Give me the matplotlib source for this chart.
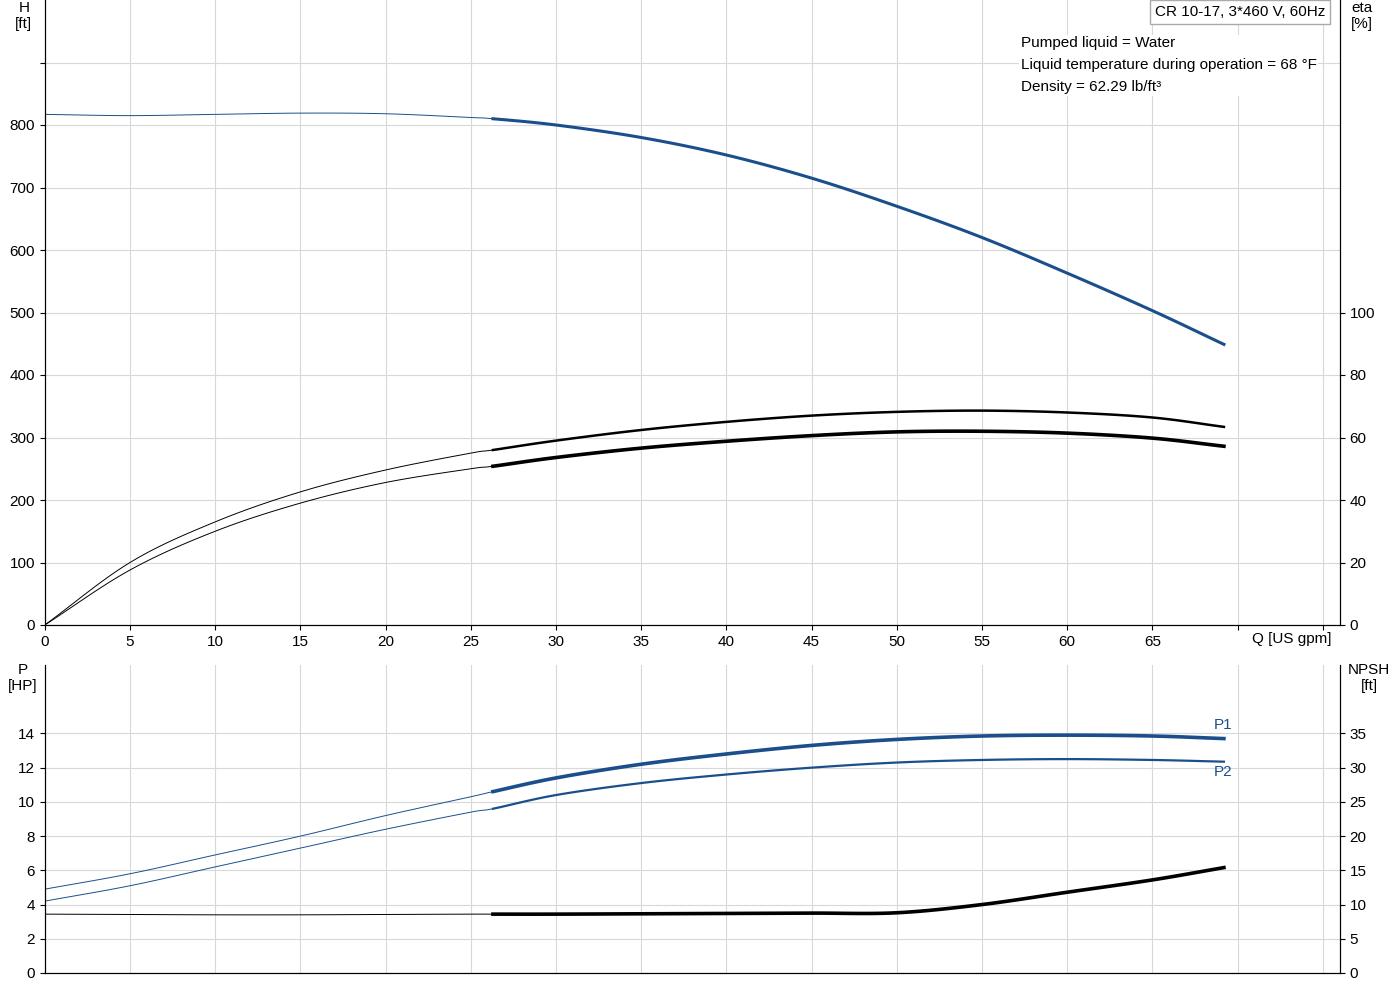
import matplotlib
matplotlib.use("Agg")
import matplotlib.pyplot as plt
import numpy as np

plt.rcParams['font.family'] = ['Liberation Sans', 'DejaVu Sans']

q = [0, 5, 10, 15, 20, 25, 26.3, 30, 35, 40, 45, 50, 55, 60, 65, 69.2]
head = [817, 815, 817, 819, 818, 812, 810, 800, 780, 752, 715, 670, 620, 563, 503, 449]
eta1 = [0, 20, 33, 42.6, 49.6, 55, 56, 59, 62.4, 65, 67, 68.2, 68.6, 68, 66.4, 63.4]
eta2 = [0, 17.6, 30, 39, 45.6, 50, 50.8, 53.6, 56.6, 58.8, 60.6, 61.8, 62, 61.4, 59.8, 57.2]
p1 = [4.9, 5.8, 6.9, 8.0, 9.2, 10.3, 10.6, 11.4, 12.2, 12.8, 13.3, 13.65, 13.85, 13.9, 13.85, 13.7]
p2 = [4.2, 5.1, 6.2, 7.3, 8.4, 9.4, 9.6, 10.4, 11.1, 11.6, 12.0, 12.3, 12.45, 12.5, 12.45, 12.35]
npsh = [8.6, 8.55, 8.5, 8.5, 8.55, 8.6, 8.6, 8.6, 8.65, 8.7, 8.75, 8.8, 10.0, 11.8, 13.6, 15.4]
split = 6  # index of 26.3 gpm
BLUE = "#1a4f8b"
GRID = "#d8d8d8"

def smooth(x, y, n=12):
    """Catmull-Rom rendering of the read points (drawing only)."""
    x = np.asarray(x, float); y = np.asarray(y, float)
    px = np.concatenate([[2 * x[0] - x[1]], x, [2 * x[-1] - x[-2]]])
    py = np.concatenate([[2 * y[0] - y[1]], y, [2 * y[-1] - y[-2]]])
    xs, ys = [], []
    for i in range(1, len(px) - 2):
        t = np.linspace(0, 1, n, endpoint=False)
        for P, out in ((px, xs), (py, ys)):
            p0, p1_, p2_, p3 = P[i - 1], P[i], P[i + 1], P[i + 2]
            out.extend(0.5 * (2 * p1_ + (-p0 + p2_) * t + (2 * p0 - 5 * p1_ + 4 * p2_ - p3) * t ** 2
                              + (-p0 + 3 * p1_ - 3 * p2_ + p3) * t ** 3))
    xs.append(x[-1]); ys.append(y[-1])
    return np.array(xs), np.array(ys)

fig = plt.figure(figsize=(14, 10), dpi=100)
ax = fig.add_axes([0.032, 0.375, 0.925, 0.625])
ax2 = ax.twinx()
bx = fig.add_axes([0.032, 0.027, 0.925, 0.308])
bx2 = bx.twinx()

def thinthick(a, x, y, color, lw):
    xs, ys = smooth(x, y)
    cut = split * 12
    a.plot(xs[:cut + 1], ys[:cut + 1], color=color, lw=0.7)
    a.plot(xs[cut:], ys[cut:], color=color, lw=lw)

for a in (ax, bx):
    a.set_xlim(0, 76)
    a.set_xticks(np.arange(0, 80, 5))
    a.grid(True, color=GRID, lw=0.8)
    a.set_axisbelow(True)
    a.spines["top"].set_visible(False)
    a.tick_params(labelsize=11, direction="out")

ax.set_ylim(0, 1000)
ax.set_yticks(np.arange(0, 1000, 100))
ax.set_yticklabels([str(v) if v <= 800 else "" for v in range(0, 1000, 100)])
ax.set_xticklabels([str(v) if v <= 65 else "" for v in range(0, 80, 5)])
ax2.set_ylim(0, 200)
ax2.set_yticks([0, 20, 40, 60, 80, 100])
ax2.tick_params(labelsize=11)
ax2.spines["top"].set_visible(False)

thinthick(ax, q, head, BLUE, 2.2)
thinthick(ax2, q, eta1, "black", 1.8)
thinthick(ax2, q, eta2, "black", 2.6)

bx.set_ylim(0, 18)
bx.set_yticks(np.arange(0, 16, 2))
bx.set_xticklabels([])
bx.tick_params(axis="x", length=0)
bx2.set_ylim(0, 45)
bx2.set_yticks(np.arange(0, 40, 5))
bx2.tick_params(labelsize=11)
bx2.spines["top"].set_visible(False)
thinthick(bx, q, p1, BLUE, 2.6)
thinthick(bx, q, p2, BLUE, 1.6)
thinthick(bx2, q, npsh, "black", 2.6)
bx.text(q[-1] - 0.6, p1[-1] + 0.4, "P1", color=BLUE, fontsize=11, va="bottom")
bx.text(q[-1] - 0.6, p2[-1] - 0.2, "P2", color=BLUE, fontsize=11, va="top")

fig.text(0.017, 0.999, "H\n[ft]", ha="center", va="top", fontsize=11)
fig.text(0.973, 0.999, "eta\n[%]", ha="center", va="top", fontsize=11)
fig.text(0.016, 0.337, "P\n[HP]", ha="center", va="top", fontsize=11)
fig.text(0.978, 0.337, "NPSH\n[ft]", ha="center", va="top", fontsize=11)
fig.text(0.923, 0.361, "Q [US gpm]", ha="center", va="center", fontsize=11)
fig.text(0.825, 0.988, "CR 10-17, 3*460 V, 60Hz", ha="left", va="center", fontsize=11,
         bbox=dict(facecolor="white", edgecolor="#aaaaaa", boxstyle="square,pad=0.3"))
info = "Pumped liquid = Water\nLiquid temperature during operation = 68 °F\nDensity = 62.29 lb/ft³"
fig.text(0.729, 0.964, info, ha="left", va="top", fontsize=11, linespacing=1.75,
         bbox=dict(facecolor="white", edgecolor="none", pad=1))

fig.savefig("out.png", dpi=100)
